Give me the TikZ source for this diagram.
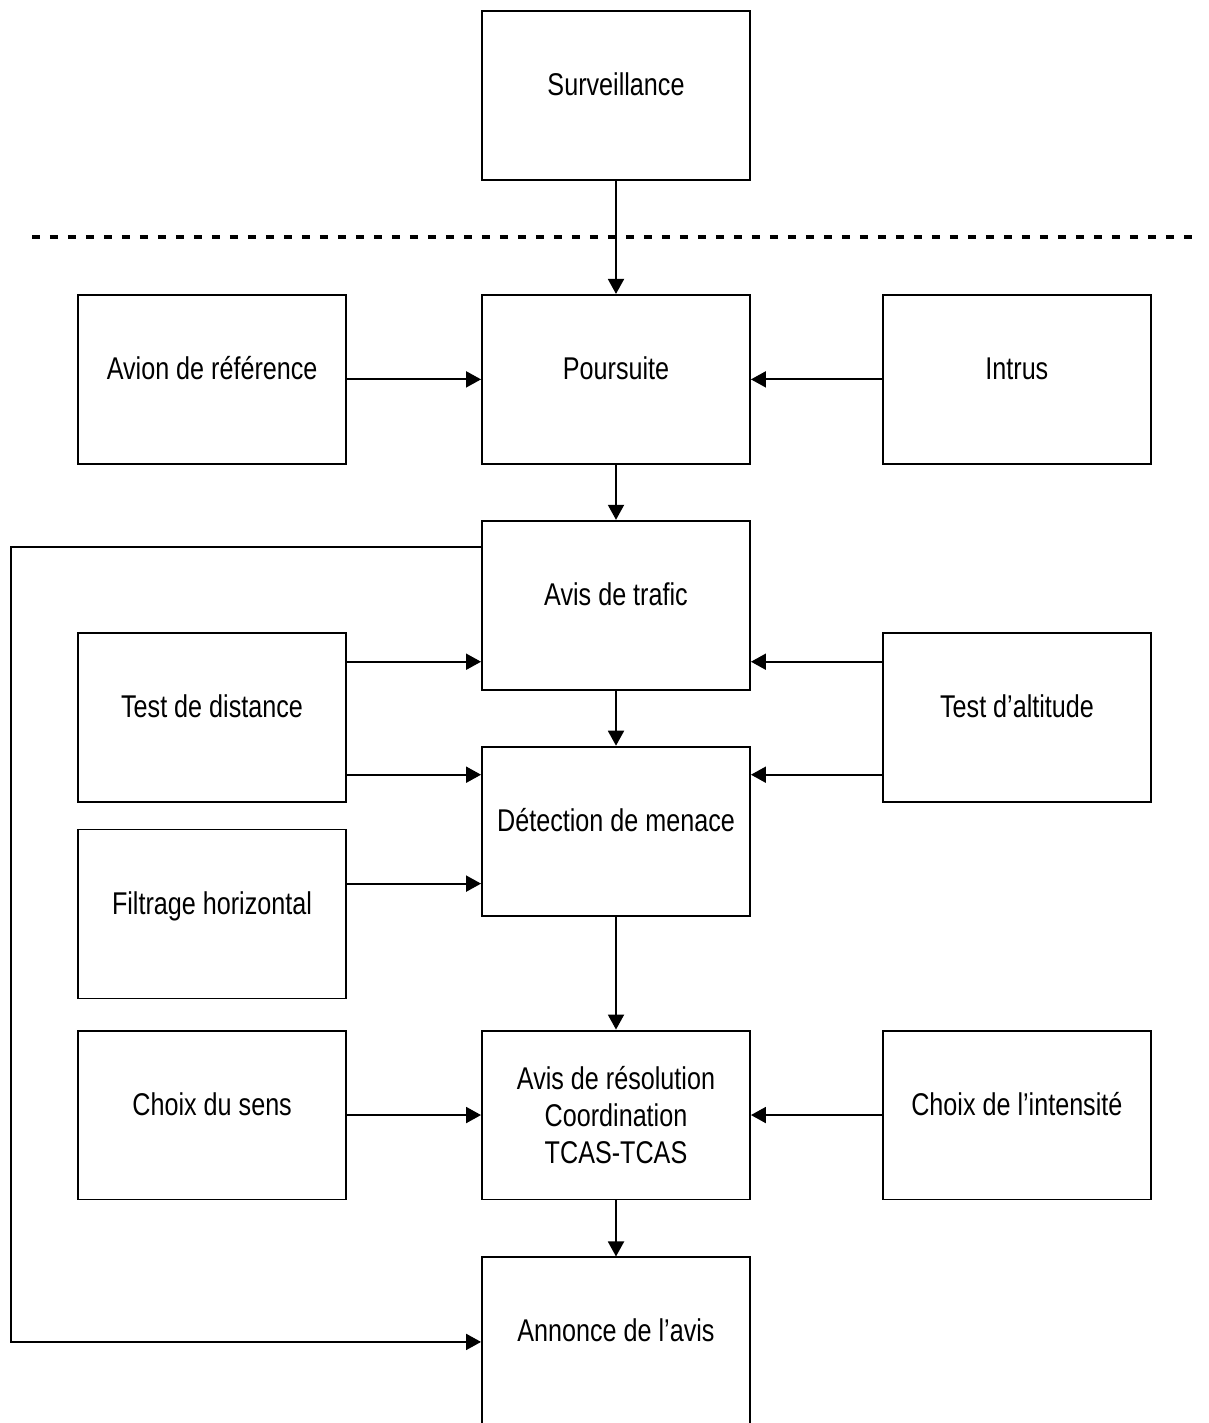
\documentclass[tikz,border=0pt]{standalone}
\usepackage{fontspec}
\setmainfont{Liberation Sans}[FakeStretch=0.8]
\usetikzlibrary{arrows.meta, positioning}

\begin{document}
\begin{tikzpicture}[
    x=0.02cm, y=-0.02cm,
    box/.style={rectangle, draw, line width=1.1pt, minimum width=5.36cm, minimum height=3.38cm, inner sep=0pt, align=center, font=\fontsize{17.9pt}{21.3pt}\selectfont},
    block/.style={box, text height=0.5cm, text depth=0.5cm},
    line/.style={draw, line width=1.1pt, -{Triangle[length=0.3cm, width=0.32cm]}},
    sep/.style={line width=2.3pt, dash pattern=on 0.16cm off 0.2cm},
    node distance=1.1cm and 2.68cm
]
\useasboundingbox (0,0) rectangle (1209,1423);

% Centre column
\node[block] (surveillance) at (616,95.5) {Surveillance};
\node[block, below=2.26cm of surveillance] (poursuite) {Poursuite};
\node[block, below=1.1cm of poursuite] (trafic) {Avis de trafic};
\node[block, below=1.1cm of trafic] (detection) {Détection de menace};
\node[box, below=2.26cm of detection] (resolution) {Avis de résolution\\Coordination\\TCAS-TCAS};
\node[block, below=1.12cm of resolution] (annonce) {Annonce de l’avis};

% Side boxes
\node[block, left=2.68cm of poursuite] (avion) {Avion de référence};
\node[block, right=2.62cm of poursuite] (intrus) {Intrus};
\node[block] (distance) at (212,717.5) {Test de distance};
\node[block] (altitude) at (1017,717.5) {Test d’altitude};
\node[block] (filtrage) at (212,914) {Filtrage horizontal};
\node[block, left=2.68cm of resolution] (sens) {Choix du sens};
\node[block, right=2.62cm of resolution] (intensite) {Choix de l’intensité};

% Separator
\coordinate (sepL) at (32,237);
\coordinate (sepR) at (1198,237);
\draw[sep] (sepL) -- (sepR);

% Arrow ends
\coordinate (t1) at ([yshift=0.58cm]trafic.south west);
\coordinate (t2) at ([yshift=0.58cm]trafic.south east);
\coordinate (d1) at ([yshift=-0.58cm]detection.north west);
\coordinate (d2) at ([yshift=-0.58cm]detection.north east);
\coordinate (d3) at ([yshift=0.66cm]detection.south west);
\coordinate (loopstart) at ([yshift=-0.54cm]trafic.north west);
\coordinate (left) at (11,0);

% Paths
\path[line] (surveillance) -- (poursuite);
\path[line] (avion) -- (poursuite);
\path[line] (intrus) -- (poursuite);
\path[line] (poursuite) -- (trafic);
\path[line] (distance.east |- t1) -- (t1);
\path[line] (altitude.west |- t2) -- (t2);
\path[line] (distance.east |- d1) -- (d1);
\path[line] (altitude.west |- d2) -- (d2);
\path[line] (filtrage.east |- d3) -- (d3);
\path[line] (trafic) -- (detection);
\path[line] (detection) -- (resolution);
\path[line] (sens) -- (resolution);
\path[line] (intensite) -- (resolution);
\path[line] (resolution) -- (annonce);
\path[line] (loopstart) -- (loopstart -| left) -- (annonce.west -| left) -- (annonce.west);

\end{tikzpicture}
\end{document}
